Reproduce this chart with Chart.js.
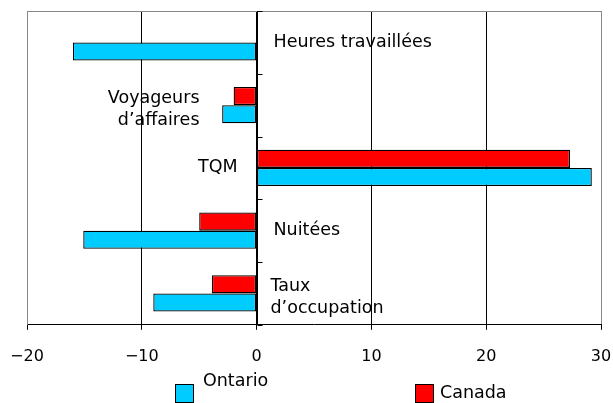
<!DOCTYPE html>
<html>
<head>
<meta charset="utf-8">
<script src="https://cdn.jsdelivr.net/npm/chart.js@4/dist/chart.umd.min.js"></script>
<style>
  html, body { margin: 0; padding: 0; background: #fff; }
  #wrap { width: 613px; height: 403px; }
</style>
</head>
<body>
<div id="wrap"><canvas id="chart" width="613" height="403"></canvas></div>
<script>
const categories = ['Heures travaillées', 'Voyageurs\nd\u2019affaires', 'TQM', 'Nuitées', 'Taux\nd\u2019occupation'];
const canada = [0, -2, 27.3, -5, -3.9];
const ontario = [-16, -3, 29.2, -15.1, -9];
const xTicks = [-20, -10, 0, 10, 20, 30];

const FONT = 'DejaVu Sans';

// labels sit next to the zero line: pixel offset from it, and alignment
const labelPos = [
    {dx: 16, align: 'left'},
    {dx: -58, align: 'right'},
    {dx: -20, align: 'right'},
    {dx: 16, align: 'left'},
    {dx: 13, align: 'left'}
];

const extras = {
    id: 'extras',
    afterDatasetsDraw(chart) {
        const {ctx, chartArea: a, scales: {x, y}} = chart;
        const x0 = Math.round(x.getPixelForValue(0)) + 0.5;
        ctx.save();
        // top border
        ctx.strokeStyle = '#888';
        ctx.lineWidth = 1;
        ctx.beginPath();
        ctx.moveTo(a.left, a.top + 0.5);
        ctx.lineTo(a.right, a.top + 0.5);
        ctx.stroke();
        // zero axis with ticks
        ctx.strokeStyle = '#000';
        ctx.beginPath();
        ctx.moveTo(x0, a.top);
        ctx.lineTo(x0, a.bottom);
        for (let i = 0; i <= categories.length; i++) {
            const yy = Math.round(y.getPixelForValue(i - 0.5)) + 0.5;
            ctx.moveTo(x0, yy);
            ctx.lineTo(x0 + 5, yy);
        }
        ctx.stroke();
        // category labels
        ctx.fillStyle = '#000';
        ctx.font = '17.5px "' + FONT + '"';
        ctx.textBaseline = 'middle';
        categories.forEach((c, i) => {
            const lines = c.split('\n');
            const cy = y.getPixelForValue(i) + (lines.length > 1 ? 4 : 0);
            const lh = 22;
            ctx.textAlign = labelPos[i].align;
            lines.forEach((ln, j) => {
                const yy = cy + (j - (lines.length - 1) / 2) * lh;
                ctx.fillText(ln, x0 + labelPos[i].dx, yy);
            });
        });
        ctx.restore();
    },
    afterDraw(chart) {
        const {ctx} = chart;
        ctx.save();
        ctx.font = '17.5px "' + FONT + '"';
        ctx.textBaseline = 'middle';
        ctx.textAlign = 'left';
        const items = [
            {label: 'Ontario', color: '#00CCFF', bx: 175, by: 384, tx: 203, ty: 381},
            {label: 'Canada', color: '#FF0000', bx: 415, by: 384, tx: 440, ty: 393}
        ];
        items.forEach(it => {
            ctx.fillStyle = it.color;
            ctx.fillRect(it.bx, it.by, 18, 18);
            ctx.strokeStyle = '#000';
            ctx.lineWidth = 1;
            ctx.strokeRect(it.bx + 0.5, it.by + 0.5, 18, 18);
            ctx.fillStyle = '#000';
            ctx.fillText(it.label, it.tx, it.ty);
        });
        ctx.restore();
    }
};

new Chart(document.getElementById('chart').getContext('2d'), {
    type: 'bar',
    data: {
        labels: categories,
        datasets: [{
            label: 'Canada',
            data: canada,
            backgroundColor: '#FF0000',
            borderColor: '#000',
            borderWidth: 1.3,
            borderSkipped: false
        }, {
            label: 'Ontario',
            data: ontario,
            backgroundColor: '#00CCFF',
            borderColor: '#000',
            borderWidth: 1.3,
            borderSkipped: false
        }]
    },
    options: {
        indexAxis: 'y',
        responsive: false,
        animation: false,
        categoryPercentage: 0.58,
        barPercentage: 1,
        layout: {
            padding: {left: 27, right: 12, top: 11, bottom: 20}
        },
        scales: {
            x: {
                min: -20,
                max: 30,
                afterBuildTicks: (s) => { s.ticks = xTicks.map(v => ({value: v})); },
                afterFit: (s) => { s.paddingLeft = 0; s.paddingRight = 0; },
                ticks: {
                    color: '#000',
                    padding: 17,
                    maxRotation: 0,
                    font: {family: FONT, size: 16},
                    callback: (v) => v < 0 ? '\u2212' + Math.abs(v) : String(v)
                },
                grid: {
                    color: (c) => (c.tick && (c.tick.value === -20 || c.tick.value === 30)) ? '#888' : '#000',
                    tickColor: '#000',
                    tickLength: 5,
                    lineWidth: 1
                },
                border: {color: '#000', width: 1}
            },
            y: {
                afterFit: (s) => { s.width = 0; s.paddingTop = 0; s.paddingBottom = 0; },
                ticks: {display: false},
                grid: {drawOnChartArea: false, drawTicks: false},
                border: {color: '#888', width: 1}
            }
        },
        plugins: {
            legend: {display: false},
            tooltip: {enabled: false}
        }
    },
    plugins: [extras]
});
</script>
</body>
</html>
